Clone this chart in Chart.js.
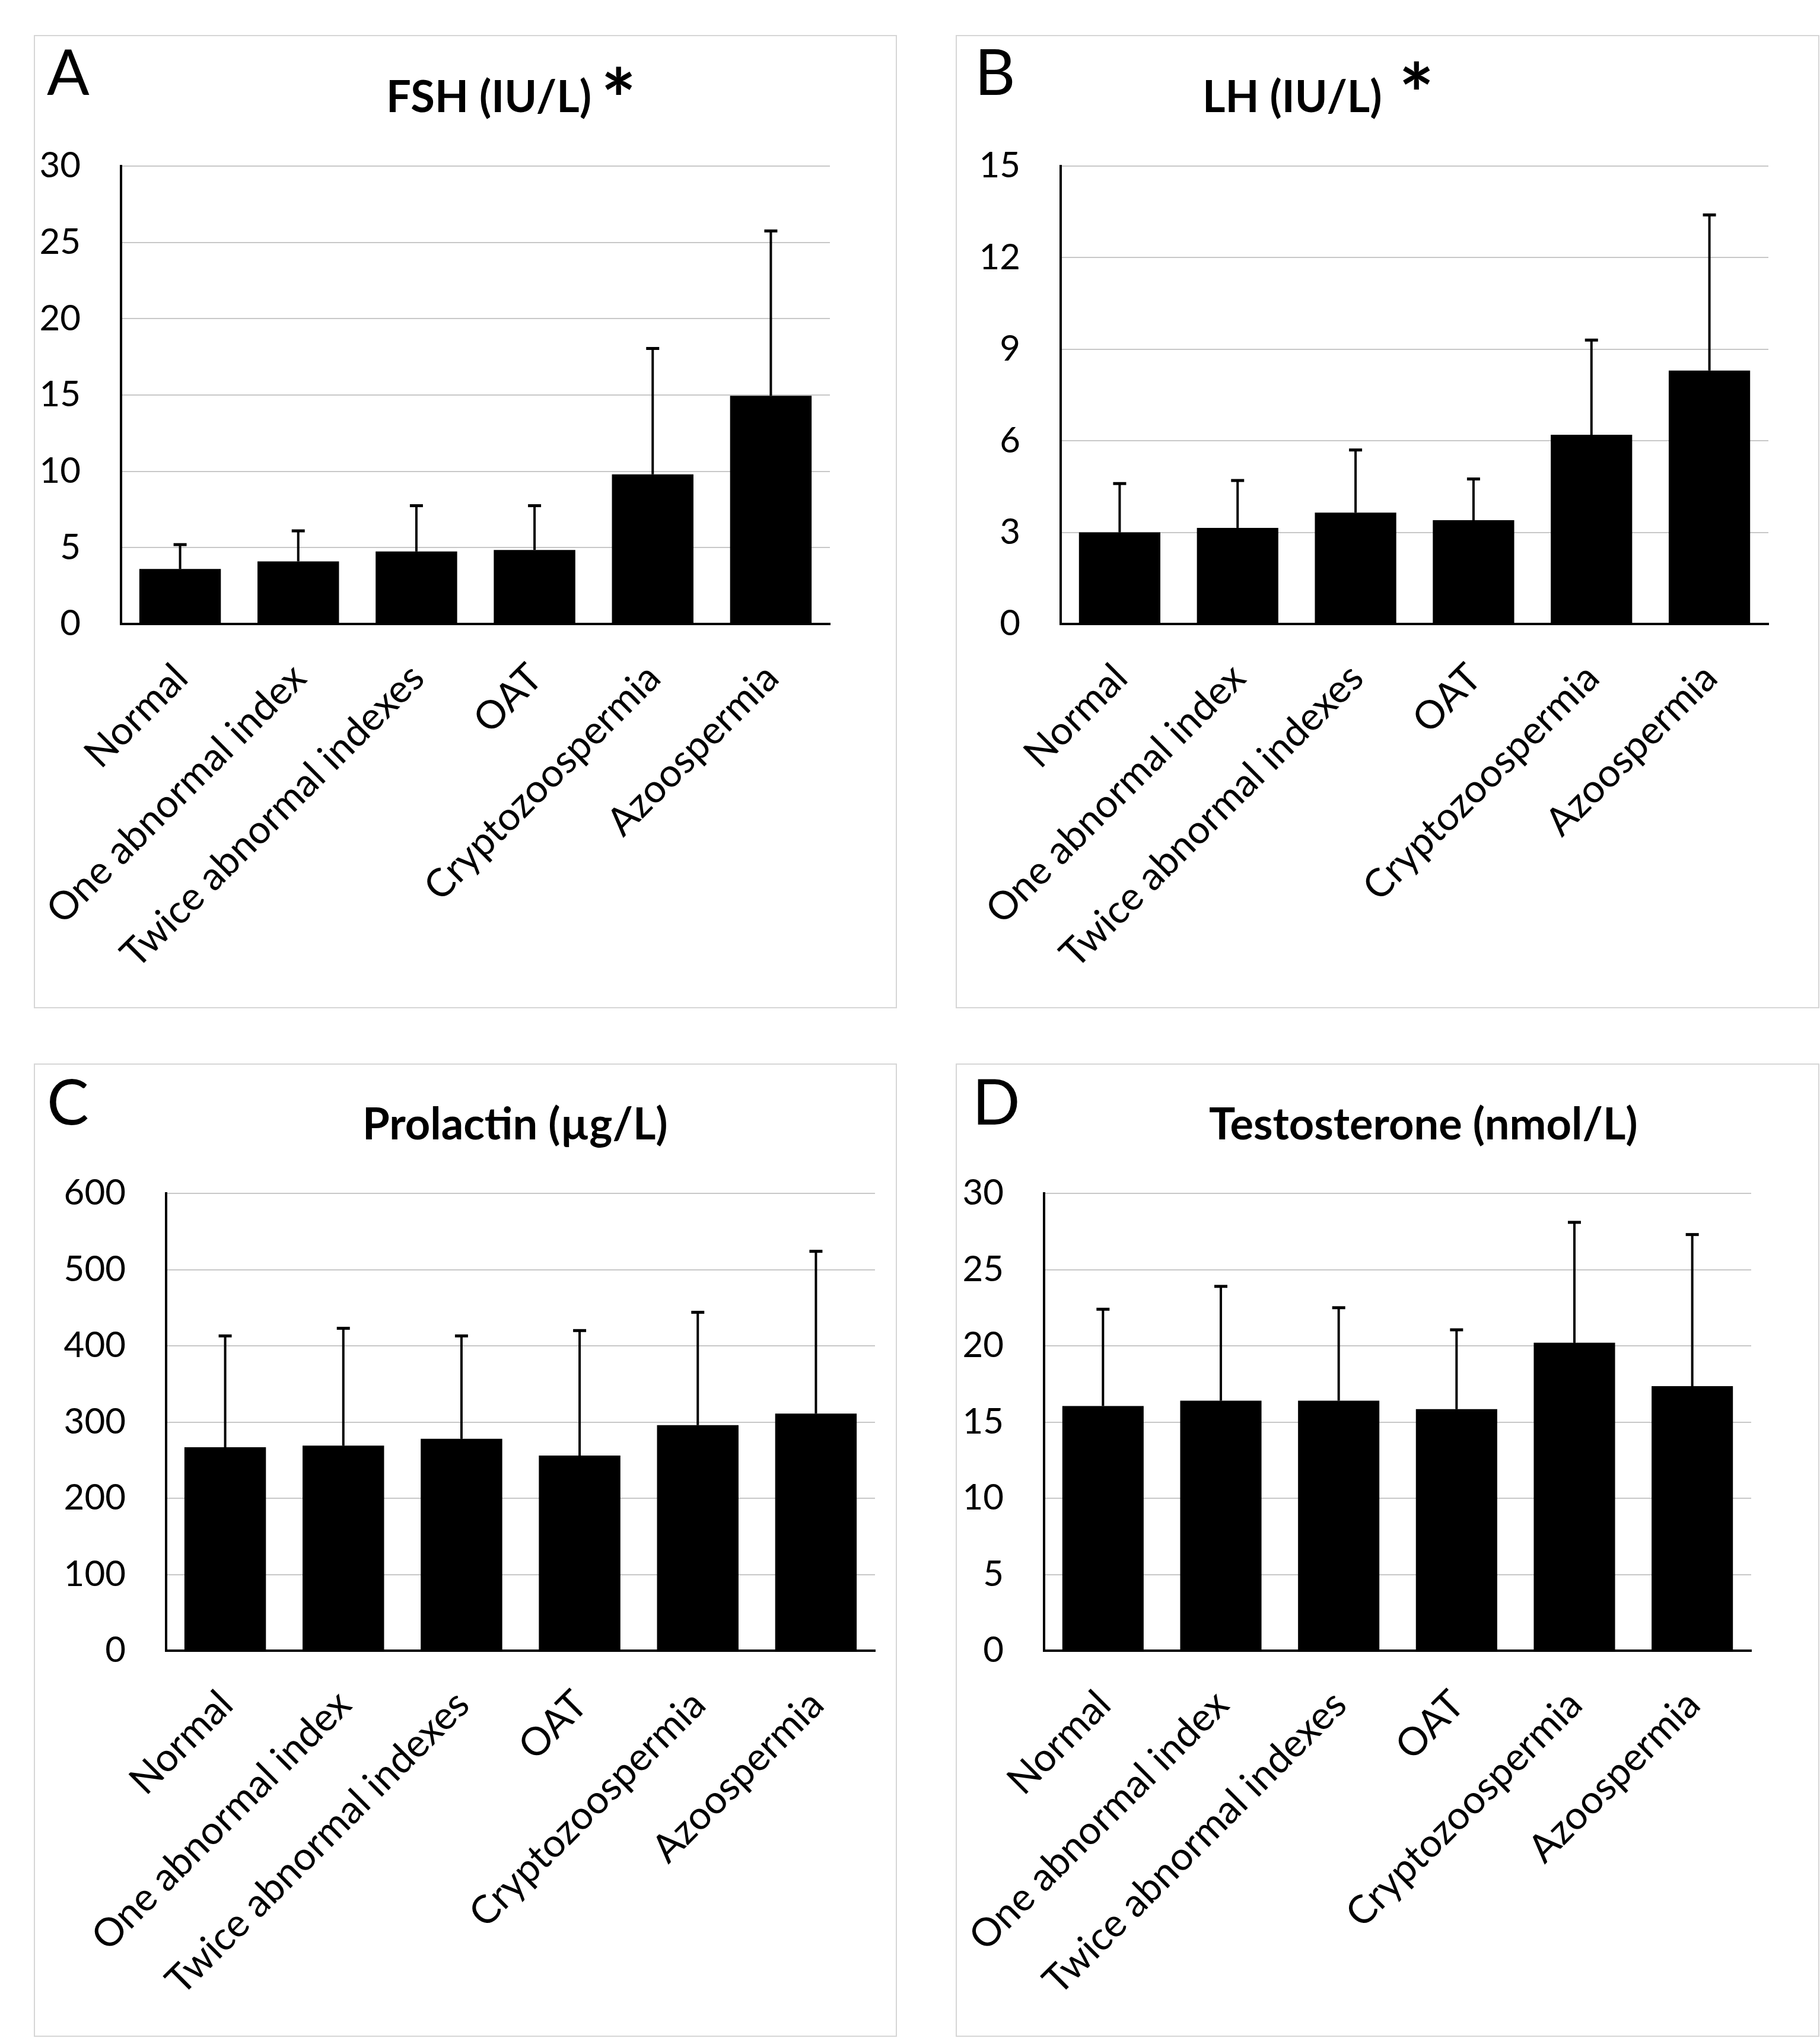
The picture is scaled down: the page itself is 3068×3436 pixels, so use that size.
<!DOCTYPE html>
<html>
<head>
<meta charset="utf-8">
<script src="https://cdn.jsdelivr.net/npm/chart.js@4.4.1/dist/chart.umd.min.js"></script>
<style>
    html, body { margin: 0; padding: 0; background: #fff; }
    body { width: 3068px; height: 3436px; position: relative; overflow: hidden; font-family: Lato, sans-serif; color: #000; }
    .panel { position: absolute; box-sizing: border-box; border: 2px solid #d6d6d6; }
    .panel canvas { position: absolute; left: -2px; top: -2px; }
    .letter { position: absolute; font-size: 106px; line-height: 1; }
    .title { position: absolute; font-weight: bold; font-size: 74px; line-height: 1; white-space: nowrap; }
    .star { position: absolute; font-weight: bold; font-size: 140px; line-height: 1; }
</style>
</head>
<body>
<div class="panel" style="left:57px;top:59px;width:1455px;height:1641px"><canvas id="fshChart" width="1455" height="1641"></canvas></div>
<div class="panel" style="left:1611px;top:59px;width:1456px;height:1641px"><canvas id="lhChart" width="1456" height="1641"></canvas></div>
<div class="panel" style="left:57px;top:1793px;width:1455px;height:1641px"><canvas id="prlChart" width="1455" height="1641"></canvas></div>
<div class="panel" style="left:1611px;top:1793px;width:1456px;height:1641px"><canvas id="testoChart" width="1456" height="1641"></canvas></div>

<div class="letter" style="left:79px;top:66px">A</div>
<div class="title" style="left:651px;top:124px">FSH (IU/L)</div>
<div class="star" style="left:1013px;top:95px">*</div>

<div class="letter" style="left:1643px;top:66px">B</div>
<div class="title" style="left:2027px;top:124px">LH (IU/L)</div>
<div class="star" style="left:2358px;top:86px">*</div>

<div class="letter" style="left:79px;top:1802px">C</div>
<div class="title" style="left:611px;top:1856px">Prolactin (µg/L)</div>

<div class="letter" style="left:1639px;top:1802px">D</div>
<div class="title" style="left:2038px;top:1856px">Testosterone (nmol/L)</div>

<script>
(function() {
    const categories = ['Normal', 'One abnormal index', 'Twice abnormal indexes', 'OAT', 'Cryptozoospermia', 'Azoospermia'];

    // means and SD (upper error bar) per group
    const fshMean = [3.6, 4.1, 4.75, 4.85, 9.8, 14.95];
    const fshSd = [1.6, 2.0, 3.0, 2.9, 8.25, 10.8];
    const fshTicks = [0, 5, 10, 15, 20, 25, 30];

    const lhMean = [3.0, 3.15, 3.65, 3.4, 6.2, 8.3];
    const lhSd = [1.6, 1.55, 2.05, 1.35, 3.1, 5.1];
    const lhTicks = [0, 3, 6, 9, 12, 15];

    const prlMean = [267, 269, 278, 256, 296, 311];
    const prlSd = [146, 154, 135, 164, 148, 213];
    const prlTicks = [0, 100, 200, 300, 400, 500, 600];

    const testoMean = [16.05, 16.4, 16.4, 15.85, 20.2, 17.35];
    const testoSd = [6.35, 7.5, 6.1, 5.2, 7.9, 9.95];
    const testoTicks = [0, 5, 10, 15, 20, 25, 30];

    // Draw the upper SD whisker with a small cap on each bar
    const errorBars = {
        id: 'errorBars',
        afterDatasetsDraw(chart) {
            const ctx = chart.ctx;
            const y = chart.scales.y;
            const ds = chart.data.datasets[0];
            const meta = chart.getDatasetMeta(0);
            ctx.save();
            ctx.strokeStyle = '#000';
            meta.data.forEach((bar, i) => {
                const top = y.getPixelForValue(ds.data[i] + ds.sd[i]);
                ctx.lineWidth = 4;
                ctx.beginPath();
                ctx.moveTo(bar.x, bar.y);
                ctx.lineTo(bar.x, top);
                ctx.stroke();
                ctx.lineWidth = 5;
                ctx.beginPath();
                ctx.moveTo(bar.x - 11, top);
                ctx.lineTo(bar.x + 11, top);
                ctx.stroke();
            });
            ctx.restore();
        }
    };

    function makeChart(id, mean, sd, ticks, box) {
        const ctx = document.getElementById(id).getContext('2d');
        new Chart(ctx, {
            type: 'bar',
            data: {
                labels: categories,
                datasets: [{
                    data: mean,
                    sd: sd,
                    backgroundColor: '#000',
                    borderWidth: 0,
                    barPercentage: 0.69,
                    categoryPercentage: 1
                }]
            },
            options: {
                responsive: false,
                animation: false,
                devicePixelRatio: 1,
                layout: {
                    padding: { left: 0, top: box.top, right: box.w - box.right, bottom: 0 }
                },
                plugins: {
                    legend: { display: false },
                    tooltip: { enabled: false }
                },
                scales: {
                    x: {
                        grid: { display: false, drawTicks: false },
                        border: { color: '#000', width: 4 },
                        ticks: {
                            autoSkip: false,
                            maxRotation: 45,
                            minRotation: 45,
                            color: '#000',
                            font: { family: 'Lato', size: 66 },
                            padding: 52,
                            labelOffset: 2
                        },
                        afterFit(scale) { scale.height = box.h - box.bottom; }
                    },
                    y: {
                        min: ticks[0],
                        max: ticks[ticks.length - 1],
                        grid: { color: '#c8c8c8', lineWidth: 2, drawTicks: false },
                        border: { color: '#000', width: 4 },
                        ticks: {
                            stepSize: ticks[1] - ticks[0],
                            color: '#000',
                            font: { family: 'Lato', size: 60 },
                            padding: 68
                        },
                        afterFit(scale) { scale.width = box.left; }
                    }
                }
            },
            plugins: [errorBars]
        });
    }

    makeChart('fshChart', fshMean, fshSd, fshTicks, { w: 1455, h: 1641, left: 147, right: 1342, top: 221, bottom: 993 });
    makeChart('lhChart', lhMean, lhSd, lhTicks, { w: 1456, h: 1641, left: 177, right: 1370, top: 221, bottom: 993 });
    makeChart('prlChart', prlMean, prlSd, prlTicks, { w: 1455, h: 1641, left: 223, right: 1418, top: 219, bottom: 990 });
    makeChart('testoChart', testoMean, testoSd, testoTicks, { w: 1456, h: 1641, left: 149, right: 1341, top: 219, bottom: 990 });
})();
</script>
</body>
</html>
